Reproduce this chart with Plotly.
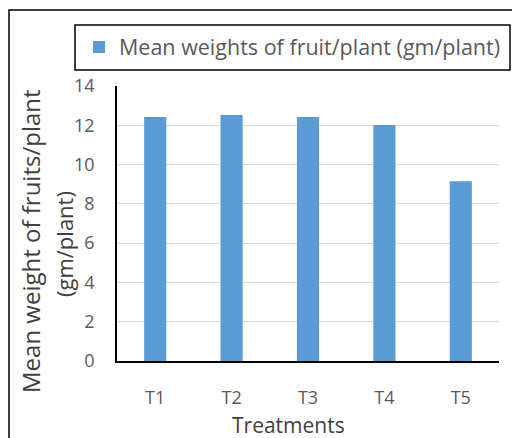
import plotly.graph_objects as go

categories = ["T1", "T2", "T3", "T4", "T5"]
mean_weights = [12.42, 12.52, 12.42, 12.02, 9.15]
series_name = "Mean weights of fruit/plant (gm/plant)"
y_ticks = [0, 2, 4, 6, 8, 10, 12, 14]
y_title_lines = ["Mean weight of fruits/plant", "(gm/plant)"]
x_title = "Treatments"

FONT = "Open Sans"
W, H = 512, 438
ML, MR, MT, MB = 117, 13, 86, 77
PW, PH = W - ML - MR, H - MT - MB

def px(x):
    return (x - ML) / PW

def py(y):
    return (H - MB - y) / PH

fig = go.Figure()
fig.add_trace(go.Bar(
    x=categories, y=mean_weights, name=series_name,
    marker=dict(color="#5b9bd5", line=dict(width=0)),
    width=0.29, showlegend=True,
))

annotations = [
    dict(text=y_title_lines[0], xref="paper", yref="paper", x=px(30), y=py(241),
         xanchor="center", yanchor="middle", textangle=-90, showarrow=False,
         font=dict(family=FONT, size=24, color="#404040")),
    dict(text=y_title_lines[1], xref="paper", yref="paper", x=px(64), y=py(244),
         xanchor="center", yanchor="middle", textangle=-90, showarrow=False,
         font=dict(family=FONT, size=22, color="#404040")),
    dict(text=x_title, xref="paper", yref="paper", x=px(288), y=py(425),
         xanchor="center", yanchor="middle", showarrow=False, borderpad=0,
         font=dict(family=FONT, size=21, color="#404040")),
]

fig.update_layout(
    width=W, height=H,
    margin=dict(l=ML, r=MR, t=MT, b=MB),
    paper_bgcolor="white", plot_bgcolor="white",
    font=dict(family=FONT, color="#595959", size=18),
    showlegend=True,
    legend=dict(
        x=px(79), y=py(47), xanchor="left", yanchor="middle",
        bgcolor="rgba(0,0,0,0)", borderwidth=0,
        font=dict(family=FONT, size=21.5, color="#595959"),
        itemwidth=30,
    ),
    xaxis=dict(
        showline=True, linecolor="black", linewidth=1.5,
        showgrid=False, ticks="", tickfont=dict(size=18, color="#595959"),
        ticklabelstandoff=20,
    ),
    yaxis=dict(
        range=[0, 14], tickvals=y_ticks, showline=True, linecolor="black", linewidth=1.5,
        showgrid=True, gridcolor="#d9d9d9", gridwidth=1.3, zeroline=False, ticks="",
        tickfont=dict(size=18, color="#595959"), ticklabelstandoff=17,
    ),
    annotations=annotations,
    shapes=[
        dict(type="rect", xref="paper", yref="paper",
             x0=px(9), x1=px(520), y0=py(450), y1=py(10),
             line=dict(color="black", width=1.5), fillcolor="rgba(0,0,0,0)", layer="above"),
        dict(type="rect", xref="paper", yref="paper",
             x0=px(75), x1=px(510), y0=py(70), y1=py(25),
             line=dict(color="black", width=1.5), fillcolor="rgba(0,0,0,0)", layer="above"),
    ],
)

fig.write_html("out.html")
